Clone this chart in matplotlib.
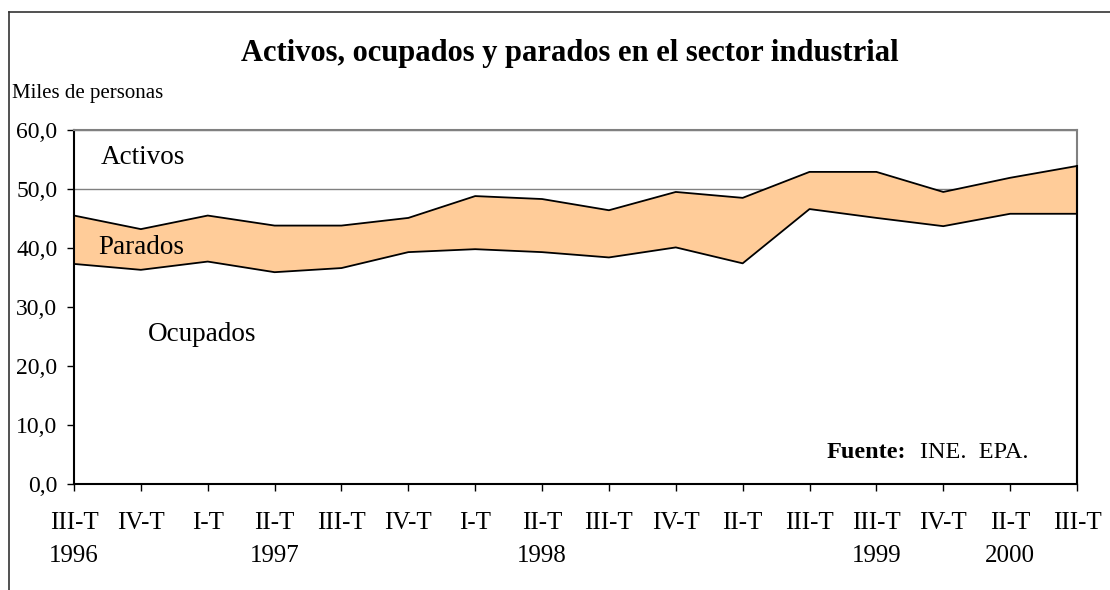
import matplotlib
matplotlib.use("Agg")
import matplotlib.pyplot as plt
import numpy as np

quarters = ["III-T", "IV-T", "I-T", "II-T", "III-T", "IV-T", "I-T", "II-T",
            "III-T", "IV-T", "II-T", "III-T", "III-T", "IV-T", "II-T", "III-T"]
years = ["1996", "", "", "1997", "", "", "", "1998",
         "", "", "", "", "1999", "", "2000", ""]
ocupados = [37.3, 36.3, 37.7, 35.9, 36.6, 39.3, 39.8, 39.3,
            38.4, 40.1, 37.4, 46.6, 45.1, 43.7, 45.8, 45.8]
activos = [45.5, 43.2, 45.5, 43.8, 43.8, 45.1, 48.8, 48.3,
           46.4, 49.5, 48.5, 52.9, 52.9, 49.5, 51.9, 53.9]

plt.rcParams['font.family'] = ['Liberation Serif', 'DejaVu Serif']

W, H = 1110, 590
fig = plt.figure(figsize=(W / 100, H / 100), dpi=100)
ax = fig.add_axes([74 / W, 1 - 484 / H, (1077 - 74) / W, (484 - 130) / H])

x = np.arange(len(quarters))
ax.set_xlim(0, len(quarters) - 1)
ax.set_ylim(0, 60)

ax.set_yticks(np.arange(0, 61, 10))
ax.set_yticklabels([f"{v:.1f}".replace(".", ",") for v in np.arange(0, 61, 10)], fontsize=17)
ax.yaxis.grid(True, color="#808080", linewidth=1)
ax.set_axisbelow(True)

# Ocupados area (white) and Parados band (orange)
ax.fill_between(x, 0, ocupados, facecolor="white", edgecolor="none", zorder=2)
ax.fill_between(x, ocupados, activos, facecolor="#FFCC99", edgecolor="none", zorder=2)
ax.plot(x, ocupados, color="black", linewidth=1.3, zorder=3)
ax.plot(x, activos, color="black", linewidth=1.3, zorder=3)
ax.plot([x[-1], x[-1]], [0, activos[-1]], color="black", linewidth=1.5, zorder=3, clip_on=False)

ax.set_xticks(x)
ax.set_xticklabels([f"{q}\n{y}" for q, y in zip(quarters, years)], fontsize=18,
                   linespacing=1.65)
ax.tick_params(axis="x", direction="out", length=5, width=1, pad=15)
ax.tick_params(axis="y", direction="out", length=5, width=1, pad=7)

for s in ["top", "right"]:
    ax.spines[s].set_color("#808080")
    ax.spines[s].set_linewidth(1.5)
for s in ["left", "bottom"]:
    ax.spines[s].set_color("black")
    ax.spines[s].set_linewidth(1.5)

ax.text(0.4, 55.3, "Activos", fontsize=19.5, ha="left", va="center", zorder=4)
ax.text(0.37, 40.1, "Parados", fontsize=19.5, ha="left", va="center", zorder=4)
ax.text(1.1, 25.3, "Ocupados", fontsize=19.5, ha="left", va="center", zorder=4)
fig.text(906 / W, 1 - 452 / H, "Fuente:", fontsize=17.5, fontweight="bold",
         ha="right", va="center", zorder=4)
fig.text(920 / W, 1 - 452 / H, "INE.  EPA.", fontsize=17.5, ha="left", va="center", zorder=4)

fig.text(570 / W, 1 - 53 / H, "Activos, ocupados y parados en el sector industrial",
         fontsize=22, fontweight="bold", ha="center", va="center")
fig.text(12 / W, 1 - 94 / H, "Miles de personas", fontsize=15, ha="left", va="center")

# outer frame lines
fig.add_artist(plt.Line2D([9 / W, 1], [1 - 12 / H, 1 - 12 / H], color="#333333", linewidth=1.2,
                          transform=fig.transFigure))
fig.add_artist(plt.Line2D([9 / W, 9 / W], [0, 1 - 12 / H], color="#333333", linewidth=1.2,
                          transform=fig.transFigure))

fig.savefig("out.png", dpi=100)
